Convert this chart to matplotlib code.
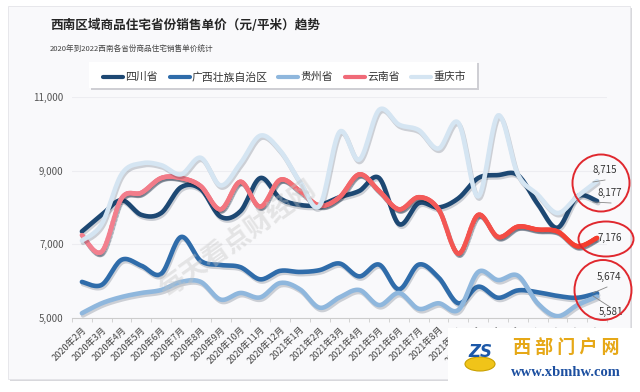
import numpy as np
import matplotlib
matplotlib.use("Agg")
import matplotlib.pyplot as plt
import matplotlib.patheffects as pe
from matplotlib.patches import Rectangle, Ellipse
from matplotlib.collections import LineCollection
from matplotlib.lines import Line2D

plt.rcParams['font.family'] = ['Noto Sans CJK SC', 'DejaVu Sans']

# 数据
months = [f"{y}年{m}月" for y, m in
          [(2020, m) for m in range(2, 13)] + [(2021, m) for m in range(1, 13)] + [(2022, m) for m in range(1, 5)]]
series_names = ["四川省", "广西壮族自治区", "贵州省", "云南省", "重庆市"]
sichuan = [7350, 7800, 8200, 7800, 7850, 8550, 8500, 7750, 7900, 8800, 8250, 8070, 8070, 8280,
           8450, 8800, 7550, 8120, 8000, 8250, 8800, 8880, 8880, 8100, 7450, 8300, 8177]
guangxi = [5980, 5900, 6580, 6420, 6200, 7200, 6550, 6440, 6380, 6050, 6280, 6250, 6300, 6480,
           6130, 6450, 5780, 6450, 6100, 5400, 5850, 5550, 5750, 5700, 5600, 5550, 5674]
guizhou = [5130, 5400, 5570, 5680, 5760, 5980, 5980, 5500, 5680, 5560, 5950, 5780, 5280, 5560,
           5760, 5350, 5680, 5250, 5400, 5220, 6250, 6030, 6150, 5400, 5050, 5350, 5581]
yunnan = [7250, 6800, 8250, 8400, 8800, 8800, 8580, 7950, 8700, 8020, 8750, 8450, 8050, 8280,
          8900, 8450, 7950, 8280, 7950, 6750, 7800, 7200, 7480, 7400, 7350, 6950, 7176]
chongqing = [7100, 7550, 8900, 9200, 9150, 8900, 9350, 8600, 9200, 9950, 9550, 8700, 8050, 10050,
             9300, 10650, 10250, 10100, 9600, 10300, 8300, 10500, 8900, 8350, 7850, 8300, 8715]
colors = ["#1d4873", "#2f6caa", "#8fb7dd", "#f06a78", "#d5e5f2"]
yticks = [5000, 7000, 9000, 11000]


def smooth(xs, ys, n=16):
    pts = np.column_stack([xs, ys]).astype(float)
    p = np.vstack([pts[0], pts, pts[-1]])
    t = np.linspace(0, 1, n, endpoint=False)[:, None]
    out = []
    for i in range(len(pts) - 1):
        p0, p1, p2, p3 = p[i], p[i + 1], p[i + 2], p[i + 3]
        out.append(0.5 * (2 * p1 + (-p0 + p2) * t + (2 * p0 - 5 * p1 + 4 * p2 - p3) * t ** 2
                          + (-p0 + 3 * p1 - 3 * p2 + p3) * t ** 3))
    out.append(pts[-1][None])
    return np.vstack(out)


W, H = 640, 392
fig = plt.figure(figsize=(6.4, 3.92), dpi=100)
fig.patch.set_facecolor("white")


def fx(x):
    return x / W


def fy(y):
    return 1 - y / H


# 卡片背景
fig.patches.append(Rectangle((fx(10), fy(381)), fx(622), 373 / H, transform=fig.transFigure,
                             facecolor="#d8d8dc", edgecolor="none", zorder=0.1))
fig.patches.append(Rectangle((fx(8), fy(379)), fx(622), 373 / H, transform=fig.transFigure,
                             facecolor="#f9f9fb", edgecolor="#e4e4e8", lw=0.6, zorder=0.2))

fig.text(fx(50), fy(25), "西南区域商品住宅省份销售单价（元/平米）趋势", fontsize=9.1,
         color="#262626", fontweight="bold", va="center", ha="left")
fig.text(fx(50), fy(50), "2020年到2022西南各省份商品住宅销售单价统计", fontsize=5.5,
         color="#444444", va="center", ha="left")

ax = fig.add_axes([fx(72), fy(318), 535 / W, 221 / H])
ax.set_zorder(2)
ax.set_facecolor("none")
x = np.arange(len(months))
all_series = [sichuan, guangxi, guizhou, yunnan, chongqing]
shadow = [pe.SimpleLineShadow(offset=(0.8, -1.6), shadow_color="#1a2a40", alpha=0.2), pe.Normal()]

for name, vals, col in zip(series_names, all_series, colors):
    s = smooth(x, vals)
    if name == "云南省":
        segs = np.stack([s[:-1], s[1:]], axis=1)
        frac = s[:-1, 0] / x[-1]
        c0 = np.array(matplotlib.colors.to_rgb("#f2808f"))
        c1 = np.array(matplotlib.colors.to_rgb("#f43b2c"))
        cols = [tuple(c0 + (c1 - c0) * f ** 1.5) for f in frac]
        lc = LineCollection(segs, colors=cols, linewidths=3.3, capstyle="round", joinstyle="round",
                            path_effects=shadow, zorder=3)
        ax.add_collection(lc)
    else:
        ax.plot(s[:, 0], s[:, 1], color=col, lw=3.3, solid_capstyle="round", path_effects=shadow, zorder=3)

ax.set_xlim(-0.5, len(months) - 0.5)
ax.set_ylim(5000, 11000)
ax.set_yticks(yticks)
ax.set_yticklabels([f"{v:,}" for v in yticks], fontsize=7, color="#555555")
ax.set_xticks(x)
ax.set_xticklabels(months, rotation=45, ha="right", rotation_mode="anchor", fontsize=6.6, color="#444444")
ax.set_xticks(np.arange(-0.5, len(months), 1), minor=True)
ax.tick_params(axis="x", which="major", length=0, pad=5)
ax.tick_params(axis="x", which="minor", length=3, color="#cccccc")
ax.tick_params(axis="y", length=0, pad=6)
for v in yticks[1:]:
    ax.axhline(v, color="#ededf1", lw=0.8, zorder=1)
for sp in ["top", "right", "left"]:
    ax.spines[sp].set_visible(False)
ax.spines["bottom"].set_color("#cccccc")
ax.spines["bottom"].set_linewidth(0.8)

# 图例
fig.patches.append(Rectangle((fx(91), fy(90)), 388 / W, 27 / H, transform=fig.transFigure,
                             facecolor="#cfcfd4", edgecolor="none", zorder=1))
fig.patches.append(Rectangle((fx(89), fy(88)), 388 / W, 26 / H, transform=fig.transFigure,
                             facecolor="white", edgecolor="none", zorder=1))
leg_x = [103, 170, 278, 345, 411]
for lx, name, col in zip(leg_x, series_names, colors):
    fig.add_artist(Line2D([fx(lx), fx(lx + 20)], [fy(77), fy(77)], transform=fig.transFigure,
                          color=col, lw=3, solid_capstyle="round", zorder=2))
    fig.text(fx(lx + 22), fy(77), name, fontsize=7.8, color="#333333", va="center", ha="left", zorder=2)

# 末端标注
end_labels = [("8,715", 605, 170, (593, 182), (605, 180)),
              ("8,177", 610, 193, (593, 202), (611, 203)),
              ("7,176", 610, 238, None, None),
              ("5,674", 609, 277, (593, 293), (607, 287)),
              ("5,581", 611, 312, (593, 296), (610, 307))]
for txt, tx, ty, p0, p1 in end_labels:
    fig.text(fx(tx), fy(ty), txt, fontsize=7, color="#333333", ha="center", va="center", zorder=5)
    if p0 is not None:
        fig.add_artist(Line2D([fx(p0[0]), fx(p1[0])], [fy(p0[1]), fy(p1[1])], transform=fig.transFigure,
                              color="#888888", lw=0.6, zorder=5))
for cx, cy, w, h in [(601, 183, 57, 57), (606, 239, 55, 35), (603, 290, 57, 60)]:
    fig.patches.append(Ellipse((fx(cx), fy(cy)), w / W, h / H, transform=fig.transFigure,
                               facecolor="none", edgecolor="#e0282e", lw=1.4, zorder=6))

# 水印
fig.text(fx(238), fy(240), "每天看点财经网", fontsize=19, color="#c4c4c4", alpha=0.4,
         rotation=35, ha="center", va="center", fontweight="bold", zorder=4)

# 角标
fig.patches.append(Rectangle((fx(448), fy(392)), 192 / W, 64 / H, transform=fig.transFigure,
                             facecolor="white", edgecolor="none", zorder=7))
fig.patches.append(Ellipse((fx(480), fy(364)), 30 / W, 14 / H, transform=fig.transFigure,
                           facecolor="#f0c419", edgecolor="#c9a000", lw=0.8, zorder=8))
fig.text(fx(480), fy(352), "ZS", fontsize=12, color="#1c58a8", fontweight="bold", style="italic",
         ha="center", va="center", zorder=9, family=["DejaVu Sans"])
fig.text(fx(566), fy(347), "西 部 门 户 网", fontsize=13, color="#e6a817", fontweight="bold",
         ha="center", va="center", zorder=8)
fig.text(fx(566), fy(373), "www.xbmhw.com", fontsize=10.5, color="#1c4fa0", fontweight="bold",
         ha="center", va="center", zorder=8, family=["Liberation Serif"])

fig.savefig("out.png", dpi=100)
